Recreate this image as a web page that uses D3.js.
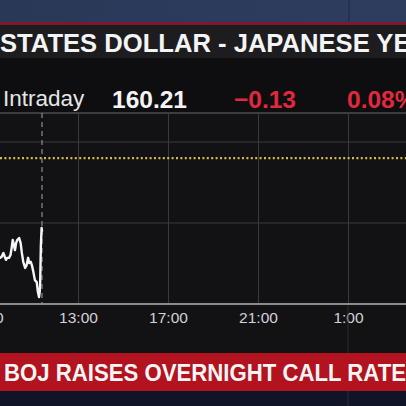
<!DOCTYPE html>
<html lang="en">
<head>
	<meta charset="UTF-8">
	<title>USD-JPY intraday</title>
	<script src="https://cdn.jsdelivr.net/npm/d3@7"></script>

	<style type="text/css">

		body {
			margin: 0;
			background: #111114;
			overflow: hidden;
		}

		svg {
			display: block;
		}

		.price {
			fill: none;
			stroke: #f6f6f6;
			stroke-width: 2.4;
			stroke-linejoin: round;
		}

		.grid line {
			stroke: #3a3a3f;
			stroke-width: 1;
		}

		.tick text {
			fill: #d2d2d5;
			font-family: 'Liberation Sans', Arial, sans-serif;
			font-size: 15.5px;
		}

	</style>

</head>
<body>

<script type="text/javascript">

	// intraday USD/JPY, time of day and price
	var times = ['9:00', '9:20', '9:32', '9:36', '9:41', '9:45', '9:48', '9:51', '9:56', '10:00', '10:03',
		'10:06', '10:09', '10:12', '10:15', '10:18', '10:23', '10:27', '10:30', '10:34', '10:39', '10:43',
		'10:47', '10:50', '10:54', '10:57', '11:01', '11:05', '11:10', '11:13', '11:16', '11:18', '11:19',
		'11:21', '11:23', '11:24'];
	var prices = [160.12, 160.11, 160.114, 160.116, 160.126, 160.116, 160.109, 160.114, 160.114, 160.121, 160.138,
		160.158, 160.146, 160.133, 160.151, 160.158, 160.163, 160.151, 160.128, 160.104, 160.089, 160.096,
		160.114, 160.101, 160.104, 160.096, 160.079, 160.059, 160.054, 160.030, 160.017, 160.030, 160.047,
		160.146, 160.188, 160.178];

	var tickHours = [9, 13, 17, 21, 25];
	var tickLabels = ['9:00', '13:00', '17:00', '21:00', '1:00'];
	var gridPrices = [160.2, 160.4];
	var prevClose = 160.36;
	var nowTime = '11:24';

	var title = 'STATES DOLLAR - JAPANESE YEN';
	var quoteLabel = 'Intraday';
	var lastPrice = '160.21';
	var netChange = '\u22120.13';
	var pctChange = '0.08%';
	var headline = 'BOJ RAISES OVERNIGHT CALL RATE';

	function toHours(t) {
		var p = t.split(':');
		return +p[0] + (+p[1]) / 60;
	}

	window.onload = function () {

		var width = 406, height = 406;
		var plot = {top: 113, bottom: 304};
		var font = "'Liberation Sans', Arial, sans-serif";

		var svg = d3.select('body').append('svg')
			.attr('width', width)
			.attr('height', height);

		var data = times.map(function (t, i) {
			return {h: toHours(t), price: prices[i]};
		});

		var x = d3.scaleLinear()
			.domain([9, 27])
			.range([-12, 393]);

		var y = d3.scaleLinear()
			.domain([160.0, 160.4])
			.range([plot.bottom, 142]);

		// backgrounds
		var sky = svg.append('defs').append('linearGradient')
			.attr('id', 'sky').attr('x1', 0).attr('x2', 1);
		sky.append('stop').attr('offset', '0%').attr('stop-color', '#2a3858');
		sky.append('stop').attr('offset', '100%').attr('stop-color', '#2e3d5e');

		svg.append('rect').attr('width', width).attr('height', 23).attr('fill', 'url(#sky)');
		svg.append('line').attr('x1', 349).attr('x2', 349).attr('y1', 0).attr('y2', 23)
			.attr('stroke', '#1f2b45').attr('stroke-width', 1);
		svg.append('rect').attr('y', 22).attr('width', width).attr('height', 3).attr('fill', '#7c1a2c');
		svg.append('rect').attr('y', 25).attr('width', width).attr('height', 33).attr('fill', '#1d1d20');
		svg.append('rect').attr('y', 58).attr('width', width).attr('height', 55).attr('fill', '#0e0e11');
		svg.append('rect').attr('y', plot.top).attr('width', width).attr('height', 240).attr('fill', '#121215');
		svg.append('rect').attr('y', 390).attr('width', width).attr('height', 16).attr('fill', '#0f1526');

		// header texts
		svg.append('text')
			.attr('x', 0).attr('y', 52)
			.attr('textLength', 429).attr('lengthAdjust', 'spacingAndGlyphs')
			.style('font-family', font).style('font-weight', 'bold').style('font-size', '26.5px')
			.style('fill', '#f4f4f4')
			.text(title);

		svg.append('text')
			.attr('x', 3).attr('y', 106)
			.style('font-family', font).style('font-size', '22.5px')
			.style('fill', '#e6e6e6')
			.text(quoteLabel);

		svg.append('text')
			.attr('x', 112).attr('y', 108)
			.style('font-family', font).style('font-weight', 'bold').style('font-size', '24.5px')
			.style('fill', '#f4f4f4')
			.text(lastPrice);

		svg.append('text')
			.attr('x', 234).attr('y', 108)
			.style('font-family', font).style('font-weight', 'bold').style('font-size', '24.5px')
			.style('fill', '#e2293c')
			.text(netChange);

		svg.append('text')
			.attr('x', 347).attr('y', 108)
			.style('font-family', font).style('font-weight', 'bold').style('font-size', '24.5px')
			.style('fill', '#e2293c')
			.text(pctChange);

		// grid
		svg.append('g').attr('class', 'grid')
			.selectAll('line')
			.data(gridPrices)
			.enter().append('line')
			.attr('x1', 0).attr('x2', width)
			.attr('y1', function (d) { return y(d); })
			.attr('y2', function (d) { return y(d); });

		svg.append('line')
			.attr('x1', 0).attr('x2', width)
			.attr('y1', plot.top).attr('y2', plot.top)
			.attr('stroke', '#6a6a70').attr('stroke-width', 1);

		var axis = svg.append('g')
			.attr('class', 'grid')
			.attr('transform', 'translate(0,' + plot.bottom + ')')
			.call(d3.axisBottom(x)
				.tickValues(tickHours)
				.tickSize(-(plot.bottom - plot.top))
				.tickPadding(8)
				.tickFormat(function (d, i) { return tickLabels[i]; }));
		axis.select('.domain').remove();

		// faint studio line continuing below the axis
		svg.append('line')
			.attr('x1', x(25)).attr('x2', x(25))
			.attr('y1', plot.bottom).attr('y2', height)
			.attr('stroke', '#2c2c32').attr('stroke-width', 1);

		svg.append('line')
			.attr('x1', 0).attr('x2', width)
			.attr('y1', plot.bottom).attr('y2', plot.bottom)
			.attr('stroke', '#8a8a90').attr('stroke-width', 2);

		// previous close
		svg.append('line')
			.attr('x1', 0).attr('x2', width)
			.attr('y1', y(prevClose)).attr('y2', y(prevClose))
			.attr('stroke', '#d8bb42')
			.attr('stroke-width', 2.2)
			.attr('stroke-dasharray', '2,2.4');

		// now marker
		svg.append('line')
			.attr('x1', x(toHours(nowTime))).attr('x2', x(toHours(nowTime)))
			.attr('y1', plot.top).attr('y2', plot.bottom)
			.attr('stroke', '#8c8c92').attr('stroke-width', 1.2)
			.attr('stroke-dasharray', '5,4');

		var line = d3.line()
			.x(function (d) { return x(d.h); })
			.y(function (d) { return y(d.price); });

		svg.append('path')
			.datum(data)
			.attr('class', 'price')
			.attr('d', line);

		// headline banner
		svg.append('rect').attr('y', 353).attr('width', width).attr('height', 38).attr('fill', '#b3121f');
		svg.append('text')
			.attr('x', 4).attr('y', 381)
			.attr('textLength', 402).attr('lengthAdjust', 'spacingAndGlyphs')
			.style('font-family', font).style('font-weight', 'bold').style('font-size', '24.5px')
			.style('fill', '#f6f6f6')
			.text(headline);
	};

</script>

</body>
</html>
